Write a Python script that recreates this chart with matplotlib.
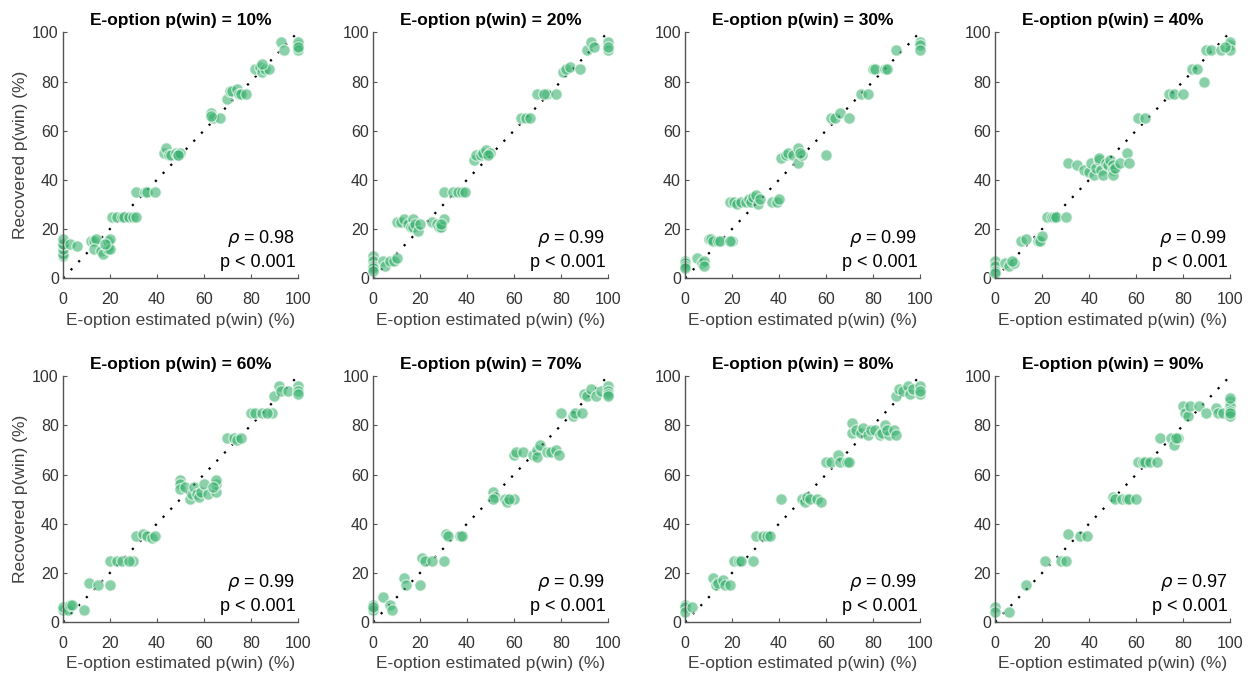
import matplotlib
matplotlib.use("Agg")
import matplotlib.pyplot as plt

plt.rcParams['font.family'] = ['Liberation Sans', 'DejaVu Sans']

# ---------------------------------------------------------
# Data
# ---------------------------------------------------------
p_levels = [10, 20, 30, 40, 60, 70, 80, 90]
rho_vals = [0.98, 0.99, 0.99, 0.99, 0.99, 0.99, 0.99, 0.97]

pts_10 = [(0, 9), (0, 10), (0, 12), (0, 14), (0, 14), (0, 16), (3, 14), (6, 13),
          (12, 15), (13, 15), (14, 16), (13, 12), (16, 11), (17, 10), (19, 13), (19, 12),
          (19, 15), (20, 16), (20, 12), (18, 14),
          (21, 25), (23, 25), (25, 25), (26, 25), (28, 25), (30, 25), (31, 25),
          (31, 35), (35, 35), (36, 35), (39, 35),
          (43, 51), (44, 53), (45, 50), (46, 50), (48, 51), (49, 50), (50, 51), (49, 50),
          (63, 67), (64, 65), (67, 65), (63, 66),
          (70, 73), (71, 76), (72, 76), (74, 77), (75, 75), (76, 75), (78, 75),
          (82, 85), (84, 86), (85, 84), (86, 85), (88, 85), (85, 87),
          (93, 96), (94, 93), (100, 95), (100, 96), (100, 93), (100, 94)]

pts_20 = [(0, 9), (0, 7), (0, 5), (0, 4), (0, 3), (4, 7), (5, 5), (7, 7), (9, 7), (10, 8),
          (10, 23), (12, 23), (13, 24), (15, 22), (16, 21), (17, 24), (17, 21), (18, 22),
          (19, 19), (20, 22), (25, 23), (27, 22), (28, 21), (29, 21), (30, 24), (29, 22),
          (30, 35), (34, 35), (36, 35), (38, 35), (39, 35),
          (43, 48), (44, 50), (46, 50), (47, 51), (48, 52), (50, 51), (49, 50),
          (63, 65), (65, 65), (67, 65),
          (70, 75), (74, 75), (78, 75), (73, 75),
          (81, 84), (82, 85), (84, 86), (88, 85),
          (91, 93), (93, 96), (94, 94), (100, 96), (100, 93), (100, 94)]

pts_30 = [(0, 7), (0, 6), (0, 5), (0, 4), (5, 8), (7, 6), (8, 7), (8, 5),
          (10, 16), (11, 16), (12, 15), (14, 15), (15, 15), (20, 15), (19, 15),
          (19, 31), (21, 31), (22, 30), (24, 31), (26, 31), (27, 32), (28, 31), (29, 33),
          (30, 34), (31, 30), (32, 32), (37, 31), (39, 31), (40, 32),
          (41, 49), (43, 50), (44, 51), (46, 50), (48, 53), (48, 47), (50, 50), (49, 51), (60, 50),
          (62, 65), (64, 65), (66, 67), (70, 65),
          (75, 75), (78, 75),
          (80, 85), (81, 85), (85, 85), (86, 85),
          (90, 93), (100, 96), (100, 95), (100, 93)]

pts_40 = [(0, 7), (0, 5), (0, 3), (0, 2), (4, 6), (6, 5), (8, 6), (7, 7),
          (11, 15), (13, 16), (18, 15), (19, 15), (20, 17),
          (22, 25), (24, 25), (25, 25), (26, 25), (30, 25),
          (31, 47), (35, 46), (38, 44), (40, 43), (41, 47), (42, 42), (43, 45), (44, 48),
          (44, 49), (45, 44), (46, 42), (47, 47), (48, 46), (49, 48), (50, 46), (50, 44),
          (50, 42), (51, 45), (53, 47), (56, 51), (57, 47),
          (61, 65), (64, 65),
          (74, 75), (76, 75), (80, 75),
          (84, 85), (86, 85), (89, 80),
          (90, 93), (92, 93), (96, 93), (100, 95), (100, 96), (100, 93), (98, 94)]

pts_60 = [(0, 5), (0, 6), (2, 5), (3, 7), (4, 7), (9, 5),
          (11, 16), (15, 15), (20, 15),
          (20, 25), (23, 25), (25, 25), (30, 25), (28, 25),
          (31, 35), (34, 36), (36, 35), (38, 34), (39, 35),
          (50, 58), (50, 56), (50, 54), (52, 55), (54, 50), (55, 52), (56, 55), (57, 52),
          (58, 51), (59, 53), (60, 56), (62, 52), (65, 53), (65, 56), (65, 58), (64, 55),
          (70, 75), (73, 75), (74, 74), (76, 75),
          (80, 85), (82, 85), (85, 85), (89, 85), (87, 85),
          (90, 92), (92, 96), (93, 94), (96, 94), (100, 96), (100, 94), (100, 93)]

pts_70 = [(0, 7), (0, 5), (0, 6), (4, 10), (7, 7), (8, 5),
          (13, 18), (14, 15), (20, 15),
          (21, 26), (22, 25), (25, 25), (30, 25),
          (31, 36), (32, 35), (37, 35), (38, 35),
          (51, 53), (52, 51), (51, 50), (56, 50), (57, 49), (60, 50), (58, 50),
          (60, 68), (61, 69), (64, 69), (68, 68), (70, 70), (70, 67), (71, 72), (74, 69),
          (76, 69), (78, 70), (79, 68),
          (80, 85), (85, 84), (86, 85), (89, 85),
          (90, 93), (91, 92), (93, 95), (95, 92), (97, 94), (100, 96), (100, 94), (100, 93), (100, 92)]

pts_80 = [(0, 7), (0, 6), (0, 4), (3, 6),
          (12, 18), (13, 15), (14, 16), (16, 17), (17, 15), (19, 15),
          (21, 25), (23, 25), (24, 25), (29, 25),
          (30, 35), (33, 35), (35, 35), (36, 35),
          (41, 50),
          (50, 50), (51, 49), (52, 51), (53, 50), (56, 50), (58, 49),
          (60, 65), (62, 65), (65, 68), (66, 65), (69, 65), (70, 65),
          (71, 81), (71, 77), (73, 78), (75, 77), (76, 79), (78, 76), (79, 78), (81, 78),
          (83, 76), (84, 77), (85, 80), (87, 76), (86, 78), (89, 78), (90, 76),
          (90, 92), (91, 95), (93, 94), (95, 96), (96, 93), (97, 95), (100, 96), (100, 93), (100, 94)]

pts_90 = [(0, 6), (0, 4), (6, 4),
          (13, 15),
          (21, 25), (28, 25), (30, 25),
          (31, 36), (36, 35), (39, 35),
          (50, 51), (51, 50), (54, 50), (56, 50), (57, 50), (60, 50),
          (61, 65), (63, 65), (64, 65), (66, 65), (69, 65),
          (70, 75), (75, 75), (76, 72), (78, 75), (77, 75),
          (80, 88), (81, 85), (82, 84), (83, 88), (87, 88), (90, 85), (94, 87), (95, 85),
          (97, 85), (100, 90), (100, 88), (100, 86), (100, 84), (100, 91), (100, 85)]

all_pts = [pts_10, pts_20, pts_30, pts_40, pts_60, pts_70, pts_80, pts_90]

# ---------------------------------------------------------
# Figure
# ---------------------------------------------------------
fig = plt.figure(figsize=(12.48, 6.75), dpi=100)

col_left = [0.0505, 0.2990, 0.5490, 0.7975]
row_bottom = [0.588, 0.0785]
w, h = 0.188, 0.364

green = '#3cb371'
tick_col = '#333333'

for i, pts in enumerate(all_pts):
    r, c = divmod(i, 4)
    ax = fig.add_axes([col_left[c], row_bottom[r], w, h])

    xs = [p[0] for p in pts]
    ys = [p[1] for p in pts]

    ax.plot([0, 100], [0, 100], color='black', linestyle=(0, (1, 4)), linewidth=1.6, zorder=1)
    ax.scatter(xs, ys, s=68, color=green, alpha=0.6, edgecolors='white',
               linewidths=1.0, zorder=2, clip_on=False)

    ax.set_xlim(0, 100)
    ax.set_ylim(0, 100)
    ax.set_xticks([0, 20, 40, 60, 80, 100])
    ax.set_yticks([0, 20, 40, 60, 80, 100])

    for side in ['top', 'right']:
        ax.spines[side].set_visible(False)
    for side in ['left', 'bottom']:
        ax.spines[side].set_color('#555555')
        ax.spines[side].set_linewidth(1.0)

    ax.tick_params(direction='in', length=3, width=0.8, colors='#555555',
                   labelcolor=tick_col, labelsize=11.5, pad=3)
    ax.tick_params(axis='x', pad=10)

    ax.set_title(f"E-option p(win) = {p_levels[i]}%", fontsize=12.5,
                 fontweight='bold', pad=5)
    ax.set_xlabel("E-option estimated p(win) (%)", fontsize=12.5, color='#404040', labelpad=4)
    if c == 0:
        ax.set_ylabel("Recovered p(win) (%)", fontsize=12.5, color='#404040', labelpad=3)

    ax.text(99, 16, rf"$\rho$ = {rho_vals[i]:.2f}", ha='right', va='center', fontsize=13)
    ax.text(99, 6.5, "p < 0.001", ha='right', va='center', fontsize=13)

fig.savefig("out.png", dpi=100)
